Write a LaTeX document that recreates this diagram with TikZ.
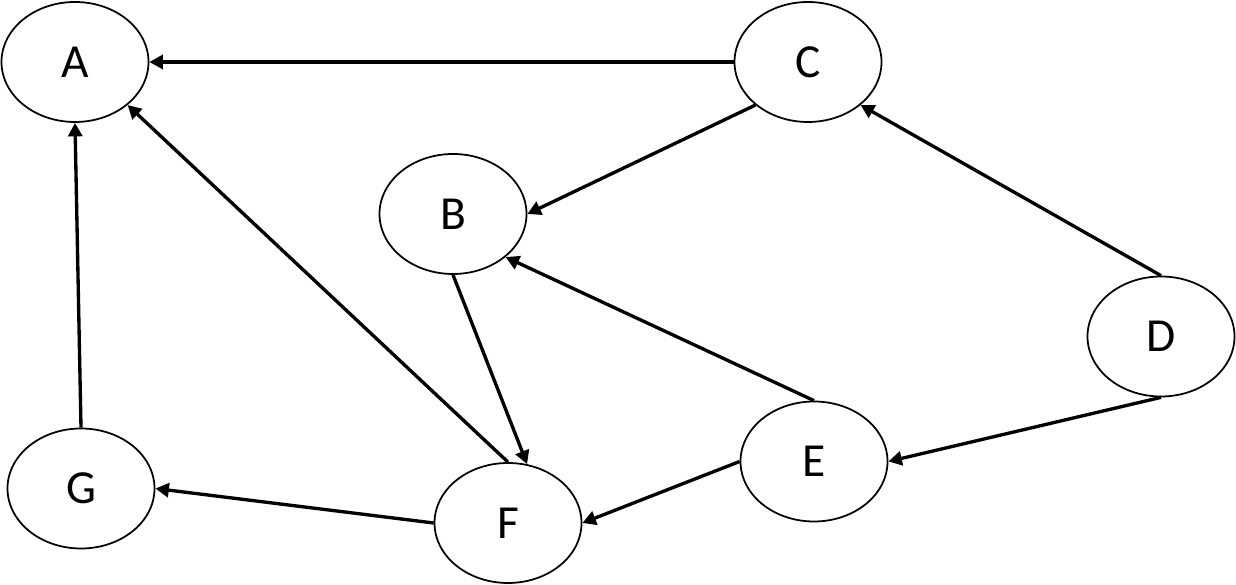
\documentclass[tikz,border=0pt]{standalone}
\usepackage{fontspec}
\setmainfont{Carlito}
\usetikzlibrary{arrows.meta,shapes.geometric}

\begin{document}
\begin{tikzpicture}[
  vertex/.style={draw,ellipse,line width=1pt,minimum width=2.94cm,minimum height=2.4cm,inner sep=0pt,font=\fontsize{27}{32}\selectfont},
  link/.style={-{Triangle[length=0.27cm,width=0.28cm]},line width=1.9pt}]
\useasboundingbox (0,0) rectangle (24.72,11.7);
\node[vertex] (A) at (1.5,10.46) {A};
\node[vertex] (C) at (16.16,10.46) {C};
\node[vertex] (B) at (9.06,7.42) {B};
\node[vertex] (D) at (23.22,4.97) {D};
\node[vertex] (E) at (16.28,2.47) {E};
\node[vertex] (G) at (1.62,1.93) {G};
\node[vertex] (F) at (10.16,1.24) {F};

\draw[link] (C.west) -- (A.east);
\draw[link] (C.south west) -- (B.east);
\draw[link] (D.north) -- (C.south east);
\draw[link] (D.south) -- (E.east);
\draw[link] (E.north) -- (B.south east);
\draw[link] (E.west) -- (F.east);
\draw[link] (B.south) -- (F.72);
\draw[link] (F.north) -- (A.south east);
\draw[link] (F.west) -- (G.east);
\draw[link] (G.north) -- (A.south);
\end{tikzpicture}
\end{document}
